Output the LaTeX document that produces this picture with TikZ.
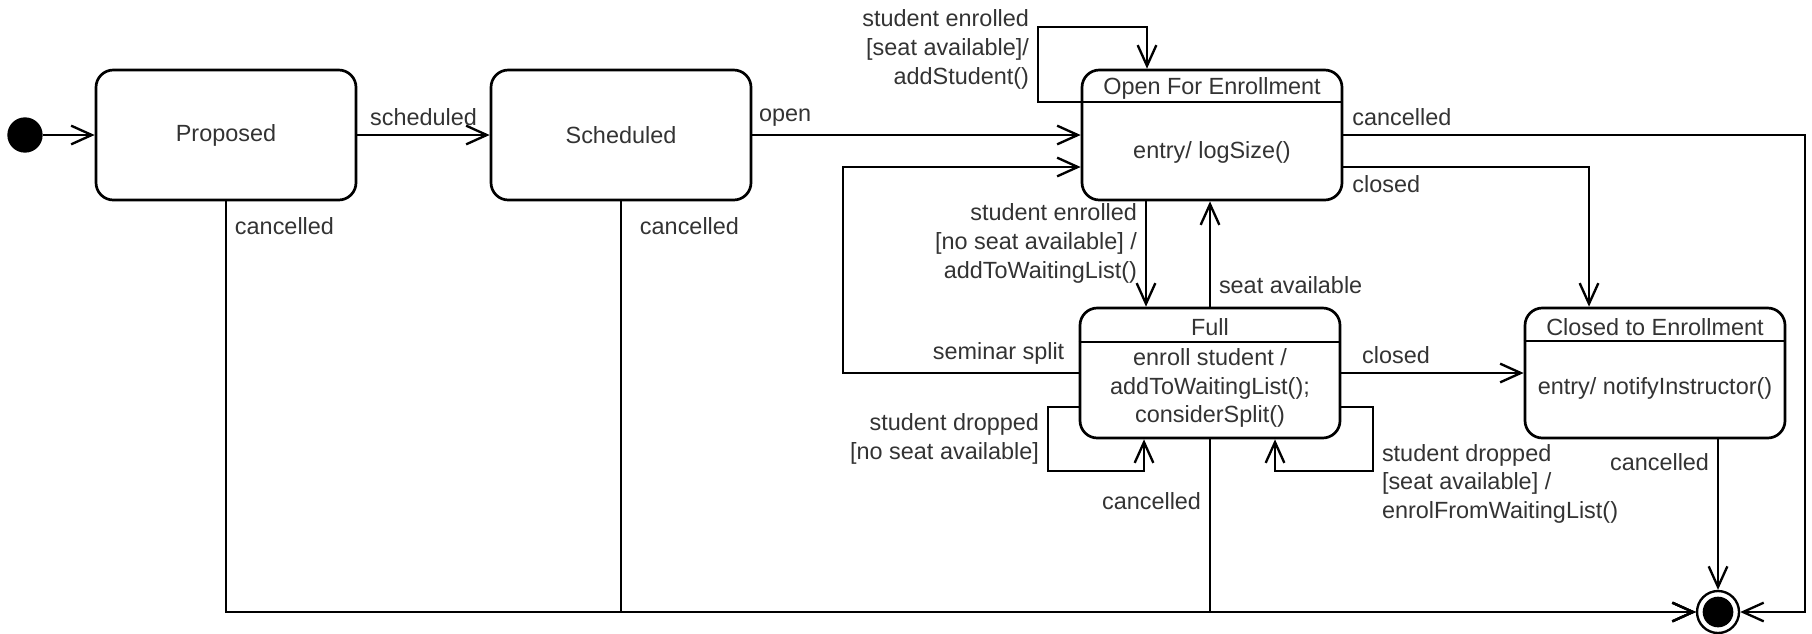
\documentclass[tikz,border=0pt]{standalone}
\usepackage{fontspec}
\setmainfont{Liberation Sans}
\usepackage{tikz}
\usetikzlibrary{arrows.meta}

\begin{document}
\begin{tikzpicture}[x=0.15mm, y=-0.15mm,
		font=\fontsize{10pt}{12.3pt}\selectfont,
		every node/.style={text=black!80},
		state/.style={draw=black, line width=1.15pt, rounded corners=2.6mm, minimum width=39mm, minimum height=19.5mm, inner sep=0pt},
		trans/.style={line width=1pt, -{Straight Barb[length=3.1mm, width=2.8mm, line width=1pt]}}]
			\useasboundingbox (0,0) rectangle (1812,633);

			% states
			\node[shape=circle, fill=black, minimum size=5.3mm, inner sep=0pt] (init) at (25,135) {};
			\node[state] (proposed) at (226,135) {Proposed};
			\node[state] (scheduled) at (621,135) {Scheduled};
			\node[state] (open) at (1212,135) {};
			\node[state] (full) at (1210,373) {};
			\node[state] (closed) at (1655,373) {};
			\node[shape=circle, draw=black, line width=1pt, minimum size=6.3mm, inner sep=0pt] (final) at (1718,612) {};
			\node[shape=circle, fill=black, minimum size=4.6mm, inner sep=0pt] (finaldot) at (final) {};

			% compartments
			\node (opentitle) at (1212,88) {Open For Enrollment};
			\draw[line width=1.15pt] (open.west |- 0,102) -- (open.east |- 0,102);
			\node (openbody) at (1212,152) {entry/ logSize()};
			\node (fulltitle) at (1210,327) {Full};
			\draw[line width=1.15pt] (full.west |- 0,342) -- (full.east |- 0,342);
			\node[align=center] (fullbody) at (1210,388) {enroll student /\\addToWaitingList();\\considerSplit()};
			\node (closedtitle) at (1655,327) {Closed to Enrollment};
			\draw[line width=1.15pt] (closed.west |- 0,341) -- (closed.east |- 0,341);
			\node (closedbody) at (1655,388) {entry/ notifyInstructor()};

			% transitions
			\draw[trans] (init) -- (proposed);
			\draw[trans] (proposed) -- node[above] {scheduled} (scheduled);
			\draw[trans] (scheduled) -- node[pos=0.1, above] {open} (open.west |- scheduled);
			\draw[trans] (open.west |- 0,102) -| node[pos=0.85, left, align=right] {student enrolled\\{[}seat available]/\\addStudent()} (1038,27) -| (open.north -| 1147,0);
			\draw[trans] (full.west) -| node[pos=0.17, above] {seminar split} (843,167) -- (open.west |- 0,167);
			\draw[trans] (open.south -| 1146,0) -- node[pos=0.4, left, align=right] {student enrolled\\{[}no seat available] /\\addToWaitingList()} (full.north -| 1146,0);
			\draw[trans] (full.north) -- node[pos=0.2, right] {seat available} (open.south -| full.north);
			\draw[trans] (open.east) -| node[pos=0, above right] {cancelled} (1805,612) -- (final.east);
			\draw[trans] (open.east |- 0,167) -| node[pos=0, below right] {closed} (closed.north -| 1589,0);
			\draw[trans] (full) -- node[pos=0.3, above] {closed} (closed);
			\draw[trans] (full.west |- 0,407) -| node[pos=0.75, left, align=right] {student dropped\\{[}no seat available]} (1048,471) -| (full.south -| 1144,0);
			\draw[trans] (full.east |- 0,407) -| node[pos=0.72, anchor=north west, align=left] {student dropped\\{[}seat available] /\\enrolFromWaitingList()} (1373,471) -| (full.south -| 1275,0);
			%\draw[trans] (full) -- (final);
			\draw[trans] (proposed.south) |- node[pos=0.03, right] {cancelled} (final.west);
			\draw[trans] (scheduled.south) |- node[pos=0.03, right, xshift=1.5mm] {cancelled} (final.west);
			\draw[trans] (full.south) |- node[pos=0.18, left] {cancelled} (final.west);
			\draw[trans] (closed.south -| final.north) -- node[pos=0.15, left] {cancelled} (final.north);
\end{tikzpicture}
\end{document}
